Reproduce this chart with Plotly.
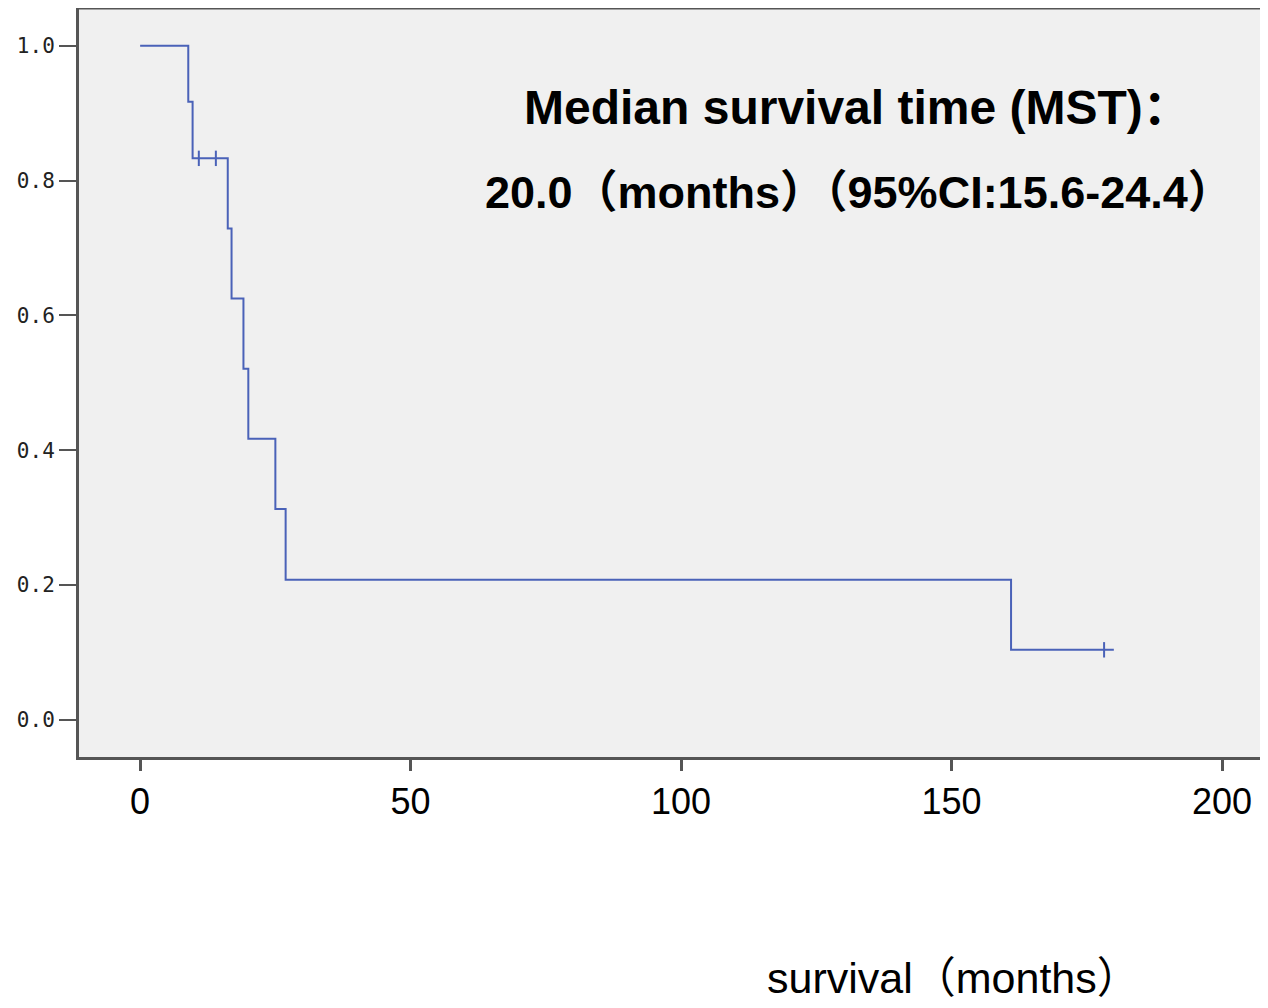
import plotly.graph_objects as go

# Kaplan-Meier step curve
times = [0, 8.9, 9.7, 16.2, 16.9, 19.1, 20.0, 25.0, 26.9, 161.0, 180.0]
survival = [1.0, 0.917, 0.833, 0.729, 0.625, 0.521, 0.417, 0.313, 0.208, 0.104, 0.104]

# censored observations
censor_times = [10.85, 14.0, 178.2]
censor_surv = [0.833, 0.833, 0.104]

x_ticks = [0, 50, 100, 150, 200]
x_tick_labels = ["0", "50", "100", "150", "200"]
y_ticks = [0.0, 0.2, 0.4, 0.6, 0.8, 1.0]
y_tick_labels = ["0.0", "0.2", "0.4", "0.6", "0.8", "1.0"]

title_line1 = "<b>Median survival time (MST)：</b>"
title_line2 = "<b>20.0（months）（95%CI:15.6-24.4）</b>"
x_title = "survival（months）"

line_color = "#4a62b8"
axis_color = "#555555"

# page offset from default body margin
OFF = 8
PL, PT, PR, PB = 79, 8, 1268, 757  # plot area in page pixels
W, H = 1268 - OFF, 1008 - OFF


def px(x):
    return (x - PL) / (PR - PL)


def py(y):
    return 1 - (y - PT) / (PB - PT)


fig = go.Figure()
fig.add_trace(go.Scatter(
    x=times, y=survival, mode="lines", line_shape="hv",
    line=dict(color=line_color, width=2), hoverinfo="skip", showlegend=False))
fig.add_trace(go.Scatter(
    x=censor_times, y=censor_surv, mode="markers",
    marker=dict(symbol="line-ns", size=11, line=dict(color=line_color, width=2)),
    hoverinfo="skip", showlegend=False))

fig.update_layout(
    width=W, height=H,
    margin=dict(l=PL - OFF, r=(OFF + W) - PR, t=PT - OFF, b=(OFF + H) - PB, pad=0),
    paper_bgcolor="white", plot_bgcolor="#f0f0f0",
    xaxis=dict(range=[-11.3, 208.5], tickvals=x_ticks, ticktext=x_tick_labels,
               showgrid=False, zeroline=False, showline=True, linecolor=axis_color,
               linewidth=3, ticks="outside", ticklen=11, tickwidth=3, tickcolor=axis_color,
               tickfont=dict(family="Liberation Sans", size=36, color="black")),
    yaxis=dict(range=[-0.055, 1.056], tickvals=y_ticks, ticktext=y_tick_labels,
               showgrid=False, zeroline=False, showline=True, linecolor=axis_color,
               linewidth=3, ticks="outside", ticklen=17, tickwidth=2, tickcolor=axis_color,
               tickfont=dict(family="DejaVu Sans Mono", size=21, color="#222222")),
    shapes=[dict(type="line", xref="paper", yref="paper", x0=0, x1=1, y0=1, y1=1,
                 line=dict(color=axis_color, width=3))],
    annotations=[
        dict(text=title_line1, xref="paper", yref="paper",
             x=px(857), y=py(107), xanchor="center", yanchor="middle",
             showarrow=False,
             font=dict(family="Liberation Sans, Noto Sans CJK SC", size=48, color="black")),
        dict(text=title_line2, xref="paper", yref="paper",
             x=px(859), y=py(192), xanchor="center", yanchor="middle",
             showarrow=False,
             font=dict(family="Liberation Sans, Noto Sans CJK SC", size=45, color="black")),
        dict(text=x_title, xref="paper", yref="paper",
             x=px(953), y=py(978), xanchor="center", yanchor="middle",
             showarrow=False,
             font=dict(family="Liberation Sans, Noto Sans CJK SC", size=43, color="black")),
    ],
)

fig.write_html("out.html")
